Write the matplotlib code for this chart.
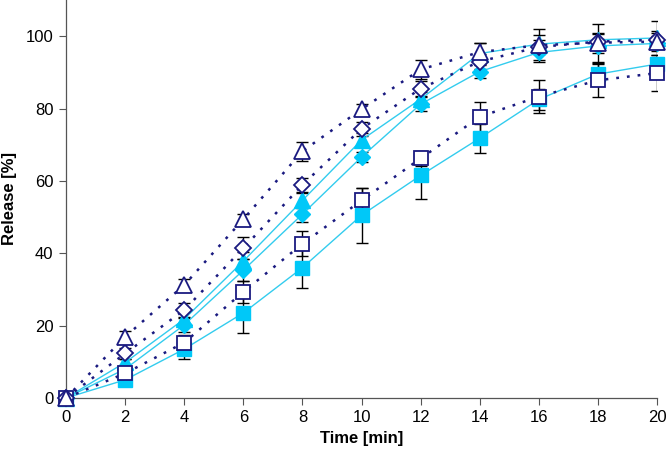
import numpy as np
import matplotlib.pyplot as plt

plt.rcParams['font.family'] = ['Liberation Sans', 'DejaVu Sans']

# time points [min]
time = [0, 2, 4, 6, 8, 10, 12, 14, 16, 18, 20]

# release [%]
sq_filled = [0, 5.0, 13.5, 23.5, 36.0, 50.5, 61.5, 71.8, 82.5, 89.5, 92.3]
sq_filled_err = [0, 1.0, 2.8, 5.5, 5.6, 7.6, 6.5, 4.0, 3.0, 3.0, 2.5]
sq_open = [0, 6.8, 15.3, 29.3, 42.6, 54.6, 66.2, 77.7, 83.3, 87.8, 89.8]
sq_open_err = [0, 1.5, 2.0, 3.0, 3.5, 3.5, 2.0, 4.2, 4.5, 4.5, 5.0]
dia_filled = [0, 8.0, 20.2, 35.3, 50.8, 66.6, 81.2, 90.2, 95.5, 97.3, 98.0]
dia_filled_err = [0, 1.0, 2.0, 3.0, 2.2, 1.5, 2.0, 1.8, 2.0, 2.0, 2.0]
dia_open = [0, 12.3, 24.3, 41.4, 58.9, 74.4, 85.5, 93.0, 97.0, 98.5, 99.0]
dia_open_err = [0, 1.5, 2.0, 3.0, 2.0, 2.0, 2.0, 2.0, 2.0, 2.0, 2.0]
tri_filled = [0, 9.8, 21.8, 37.8, 54.6, 71.3, 82.6, 95.2, 97.8, 99.0, 99.5]
tri_filled_err = [0, 1.0, 2.0, 2.5, 2.0, 2.0, 2.0, 3.0, 2.5, 2.0, 2.0]
tri_open = [0, 16.9, 31.2, 49.4, 68.2, 79.8, 90.8, 95.6, 97.5, 98.2, 98.5]
tri_open_err = [0, 1.5, 1.6, 1.5, 2.6, 1.5, 2.5, 2.5, 4.5, 5.2, 5.6]

cyan = '#00C8F8'
cyan_line = '#33CCEE'
navy = '#1A1A80'

fig = plt.figure(figsize=(6.67, 4.59), dpi=100)
ax = fig.add_axes([0.099, 0.133, 0.886, 0.867])

err_kw = dict(ecolor='black', elinewidth=1.0, capsize=4.5, capthick=1.0)

# filled series: solid cyan lines
for y, e, m, ms in [(sq_filled, sq_filled_err, 's', 10.5),
                    (dia_filled, dia_filled_err, 'D', 8.0),
                    (tri_filled, tri_filled_err, '^', 11)]:
    ax.errorbar(time, y, yerr=e, fmt='none', **err_kw, zorder=2)
    ax.plot(time, y, '-', color=cyan_line, lw=1.0, zorder=3)
    ax.plot(time, y, m, ms=ms, mfc=cyan, mec=cyan, zorder=4, clip_on=False)

# open series: dotted navy lines
for y, e, m, ms in [(sq_open, sq_open_err, 's', 10.5),
                    (dia_open, dia_open_err, 'D', 8.0),
                    (tri_open, tri_open_err, '^', 11)]:
    ax.errorbar(time, y, yerr=e, fmt='none', **err_kw, zorder=2)
    ax.plot(time, y, color=navy, lw=1.8, ls=(0, (1.1, 3.2)), zorder=5)
    ax.plot(time, y, m, ms=ms, mfc='white', mec=navy, mew=1.3, zorder=6,
            clip_on=False)

ax.set_xlim(0, 20)
ax.set_ylim(0, 110)
ax.set_xticks(range(0, 21, 2))
ax.set_yticks(range(0, 101, 20))
ax.tick_params(labelsize=12, length=5, width=0.8, color='#555555', pad=4)
for s in ['top', 'right']:
    ax.spines[s].set_visible(False)
for s in ['left', 'bottom']:
    ax.spines[s].set_color('#555555')
    ax.spines[s].set_linewidth(0.9)

ax.set_xlabel('Time [min]', fontsize=12, fontweight='bold', labelpad=4)
ax.set_ylabel('Release [%]', fontsize=12, fontweight='bold', labelpad=6)

fig.savefig('out.png', dpi=100)
